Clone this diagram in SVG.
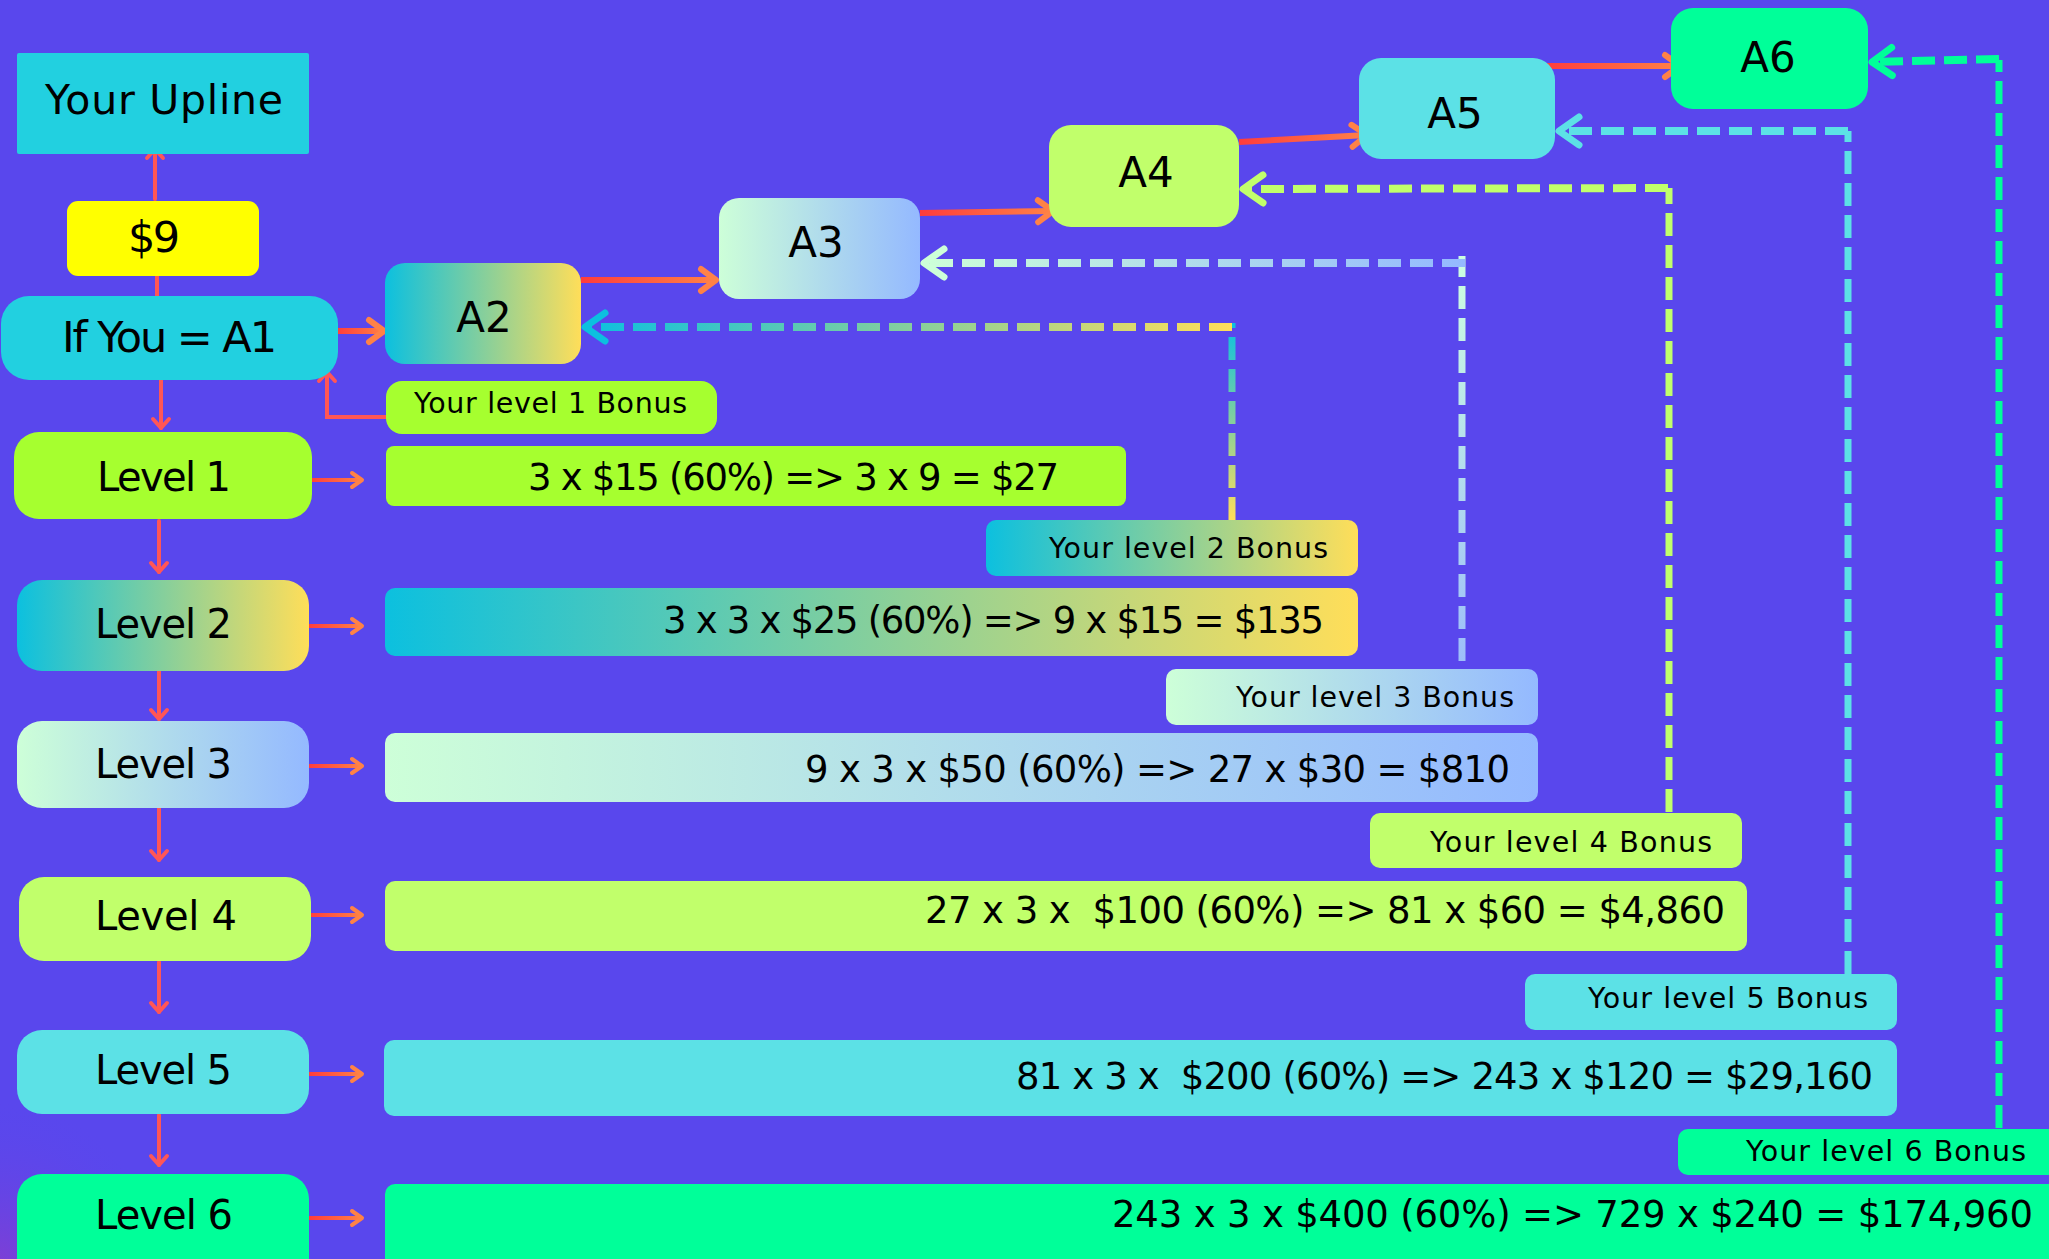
<svg xmlns="http://www.w3.org/2000/svg" width="2049" height="1259" viewBox="0 0 2049 1259">
<defs>
<style>
text{font-family:"DejaVu Sans","Liberation Sans",sans-serif;fill:#000;}
.t40{font-size:40px;}
.tA{font-size:42px;text-anchor:middle;}
.tb{font-size:28.5px;}
.tv{font-size:37px;white-space:pre;}
.cyan{fill:#22d0e0;}
.lime{fill:#a6ff2f;}
.lime2{fill:#c1ff6b;}
.aqua{fill:#5ce1e6;}
.green{fill:#00ff99;}
.g2{fill:url(#gCY);}
.g3{fill:url(#gMP);}
.thin{fill:none;stroke:#ff5656;stroke-width:4;stroke-linecap:round;}
.side{fill:none;stroke:url(#gSide);stroke-width:4;}
.big{fill:none;stroke-width:6;stroke-linecap:butt;}
.dh{fill:none;stroke-width:8;stroke-dasharray:23 9;}
.dv{fill:none;stroke-width:7;stroke-dasharray:23 9;}
</style>
<linearGradient id="gCY" x1="0" y1="0" x2="1" y2="0"><stop offset="0" stop-color="#0cc0df"/><stop offset="1" stop-color="#ffde59"/></linearGradient>
<linearGradient id="gMP" x1="0" y1="0" x2="1" y2="0"><stop offset="0" stop-color="#cdffd8"/><stop offset="1" stop-color="#94b9ff"/></linearGradient>
<linearGradient id="gSide" gradientUnits="userSpaceOnUse" x1="309" y1="0" x2="362" y2="0"><stop offset="0" stop-color="#ff3c3c"/><stop offset="1" stop-color="#ff8246"/></linearGradient>
<linearGradient id="gR1" gradientUnits="userSpaceOnUse" x1="336" y1="0" x2="385" y2="0"><stop offset="0" stop-color="#ff3c3c"/><stop offset="1" stop-color="#ff8246"/></linearGradient>
<linearGradient id="gR2" gradientUnits="userSpaceOnUse" x1="581" y1="0" x2="716" y2="0"><stop offset="0" stop-color="#ff3c3c"/><stop offset="1" stop-color="#ff8246"/></linearGradient>
<linearGradient id="gR3" gradientUnits="userSpaceOnUse" x1="920" y1="0" x2="1053" y2="0"><stop offset="0" stop-color="#ff3c3c"/><stop offset="1" stop-color="#ff8246"/></linearGradient>
<linearGradient id="gR4" gradientUnits="userSpaceOnUse" x1="1239" y1="0" x2="1367" y2="0"><stop offset="0" stop-color="#ff3c3c"/><stop offset="1" stop-color="#ff8246"/></linearGradient>
<linearGradient id="gR5" gradientUnits="userSpaceOnUse" x1="1543" y1="0" x2="1680" y2="0"><stop offset="0" stop-color="#ff3c3c"/><stop offset="1" stop-color="#ff8246"/></linearGradient>
<linearGradient id="gD2h" gradientUnits="userSpaceOnUse" x1="585" y1="0" x2="1232" y2="0"><stop offset="0" stop-color="#0cc0df"/><stop offset="1" stop-color="#ffde59"/></linearGradient>
<linearGradient id="gD2v" gradientUnits="userSpaceOnUse" x1="0" y1="325" x2="0" y2="520"><stop offset="0" stop-color="#0cc0df"/><stop offset="1" stop-color="#ffde59"/></linearGradient>
<linearGradient id="gD3h" gradientUnits="userSpaceOnUse" x1="924" y1="0" x2="1464" y2="0"><stop offset="0" stop-color="#cdffd8"/><stop offset="1" stop-color="#94b9ff"/></linearGradient>
<linearGradient id="gD3v" gradientUnits="userSpaceOnUse" x1="0" y1="258" x2="0" y2="662"><stop offset="0" stop-color="#cdffe0"/><stop offset="1" stop-color="#9dbefa"/></linearGradient>
<radialGradient id="gCorner" cx="0" cy="1259" r="160" gradientUnits="userSpaceOnUse"><stop offset="0" stop-color="#7c3fd6"/><stop offset="1" stop-color="#5947ed" stop-opacity="0"/></radialGradient>
<marker id="hBig" markerUnits="userSpaceOnUse" orient="auto" refX="0" refY="0" markerWidth="1" markerHeight="1" style="overflow:visible"><path d="M-15,-11 L0,0 L-15,11" fill="none" stroke="#ff8246" stroke-width="6" stroke-linecap="round" stroke-linejoin="round"/></marker>
<marker id="hSmO" markerUnits="userSpaceOnUse" orient="auto" refX="0" refY="0" markerWidth="1" markerHeight="1" style="overflow:visible"><path d="M-10,-7 L0,0 L-10,7" fill="none" stroke="#ff8246" stroke-width="4" stroke-linecap="round" stroke-linejoin="round"/></marker>
<marker id="hSmR" markerUnits="userSpaceOnUse" orient="auto" refX="0" refY="0" markerWidth="1" markerHeight="1" style="overflow:visible"><path d="M-9,-8 L0,0 L-9,8" fill="none" stroke="#ff5656" stroke-width="4" stroke-linecap="round" stroke-linejoin="round"/></marker>
<marker id="hCyan" markerUnits="userSpaceOnUse" orient="auto" refX="0" refY="0" markerWidth="1" markerHeight="1" style="overflow:visible"><path d="M-20,-14 L0,0 L-20,14" fill="none" stroke="#0cc0df" stroke-width="7" stroke-linecap="round" stroke-linejoin="round"/></marker>
<marker id="hMint" markerUnits="userSpaceOnUse" orient="auto" refX="0" refY="0" markerWidth="1" markerHeight="1" style="overflow:visible"><path d="M-20,-14 L0,0 L-20,14" fill="none" stroke="#cdffd8" stroke-width="7" stroke-linecap="round" stroke-linejoin="round"/></marker>
<marker id="hLime" markerUnits="userSpaceOnUse" orient="auto" refX="0" refY="0" markerWidth="1" markerHeight="1" style="overflow:visible"><path d="M-20,-14 L0,0 L-20,14" fill="none" stroke="#c1ff6b" stroke-width="7" stroke-linecap="round" stroke-linejoin="round"/></marker>
<marker id="hAqua" markerUnits="userSpaceOnUse" orient="auto" refX="0" refY="0" markerWidth="1" markerHeight="1" style="overflow:visible"><path d="M-20,-14 L0,0 L-20,14" fill="none" stroke="#5ce1e6" stroke-width="7" stroke-linecap="round" stroke-linejoin="round"/></marker>
<marker id="hGreen" markerUnits="userSpaceOnUse" orient="auto" refX="0" refY="0" markerWidth="1" markerHeight="1" style="overflow:visible"><path d="M-20,-14 L0,0 L-20,14" fill="none" stroke="#00ff99" stroke-width="7" stroke-linecap="round" stroke-linejoin="round"/></marker>
</defs>

<rect x="0" y="0" width="2049" height="1259" fill="#5947ed"/>
<rect x="0" y="1060" width="220" height="199" fill="url(#gCorner)"/>

<g id="connectors">
  <line class="thin" x1="155" y1="199" x2="155" y2="149" marker-end="url(#hSmR)"/>
  <line class="thin" x1="157" y1="276" x2="157" y2="297"/>
  <line class="thin" x1="161" y1="380" x2="161" y2="428" marker-end="url(#hSmR)"/>
  <path class="thin" d="M386,417 H327 V372" stroke-linejoin="miter" marker-end="url(#hSmR)"/>
  <line class="thin" x1="159" y1="521" x2="159" y2="572" marker-end="url(#hSmR)"/>
  <line class="thin" x1="159" y1="671" x2="159" y2="719" marker-end="url(#hSmR)"/>
  <line class="thin" x1="159" y1="808" x2="159" y2="860" marker-end="url(#hSmR)"/>
  <line class="thin" x1="159" y1="962" x2="159" y2="1012" marker-end="url(#hSmR)"/>
  <line class="thin" x1="159" y1="1115" x2="159" y2="1165" marker-end="url(#hSmR)"/>

  <line class="side" x1="312" y1="480" x2="362" y2="480" marker-end="url(#hSmO)"/>
  <line class="side" x1="309" y1="626" x2="362" y2="626" marker-end="url(#hSmO)"/>
  <line class="side" x1="309" y1="766" x2="362" y2="766" marker-end="url(#hSmO)"/>
  <line class="side" x1="311" y1="915" x2="362" y2="915" marker-end="url(#hSmO)"/>
  <line class="side" x1="309" y1="1074" x2="362" y2="1074" marker-end="url(#hSmO)"/>
  <line class="side" x1="309" y1="1218" x2="362" y2="1218" marker-end="url(#hSmO)"/>

  <line class="big" stroke="url(#gR1)" x1="336" y1="331" x2="384" y2="331" marker-end="url(#hBig)"/>
  <line class="big" stroke="url(#gR2)" x1="581" y1="280" x2="716" y2="280" marker-end="url(#hBig)"/>
  <line class="big" stroke="url(#gR3)" x1="920" y1="213" x2="1053" y2="211" marker-end="url(#hBig)"/>
  <line class="big" stroke="url(#gR4)" x1="1239" y1="142" x2="1367" y2="135" marker-end="url(#hBig)"/>
  <line class="big" stroke="url(#gR5)" x1="1543" y1="66" x2="1680" y2="66" marker-end="url(#hBig)"/>

  <line class="dv" stroke="url(#gD2v)" x1="1232" y1="520" x2="1232" y2="323"/>
  <line class="dh" stroke="url(#gD2h)" x1="1232" y1="327" x2="585" y2="327" marker-end="url(#hCyan)"/>
  <line class="dv" stroke="url(#gD3v)" x1="1462" y1="661" x2="1462" y2="256"/>
  <line class="dh" stroke="url(#gD3h)" x1="1465" y1="263" x2="924" y2="263" marker-end="url(#hMint)"/>
  <path class="dv" stroke="#c1ff6b" d="M1669,812 V188"/>
  <line class="dh" stroke="#c1ff6b" x1="1668" y1="188" x2="1243" y2="189" marker-end="url(#hLime)"/>
  <path class="dv" stroke="#5ce1e6" d="M1848,974 V131"/>
  <line class="dh" stroke="#5ce1e6" x1="1848" y1="131" x2="1559" y2="131" marker-end="url(#hAqua)"/>
  <path class="dv" stroke="#00ff99" d="M1999,1128 V60"/>
  <line class="dh" stroke="#00ff99" x1="1999" y1="59" x2="1872" y2="62" marker-end="url(#hGreen)"/>
</g>

<g id="upline"><rect class="cyan" x="17" y="53" width="292" height="101" rx="2"/><text class="t40" x="45" y="114" style="font-size:41px" textLength="238">Your Upline</text></g>
<g id="nine"><rect x="67" y="201" width="192" height="75" rx="11" fill="#ffff00"/><text class="t40" x="128" y="252" style="font-size:43px" textLength="52">$9</text></g>
<g id="a1"><rect class="cyan" x="1" y="296" width="337" height="84" rx="28"/><text class="t40" x="62" y="352" style="font-size:43px" textLength="215">If You = A1</text></g>

<g id="a2"><rect class="g2" x="385" y="263" width="196" height="101" rx="20"/><text class="tA" x="484" y="332">A2</text></g>
<g id="a3"><rect class="g3" x="719" y="198" width="201" height="101" rx="20"/><text class="tA" x="816" y="257">A3</text></g>
<g id="a4"><rect class="lime2" x="1049" y="125" width="190" height="102" rx="22"/><text class="tA" x="1146" y="187">A4</text></g>
<g id="a5"><rect class="aqua" x="1359" y="58" width="196" height="101" rx="22"/><text class="tA" x="1455" y="128">A5</text></g>
<g id="a6"><rect class="green" x="1671" y="8" width="197" height="101" rx="22"/><text class="tA" x="1768" y="72">A6</text></g>

<g id="level1"><rect class="lime" x="14" y="432" width="298" height="87" rx="25"/><text class="t40" x="97" y="491" textLength="134">Level 1</text></g>
<g id="level2"><rect class="g2" x="17" y="580" width="292" height="91" rx="25"/><text class="t40" x="95" y="638" textLength="137">Level 2</text></g>
<g id="level3"><rect class="g3" x="17" y="721" width="292" height="87" rx="25"/><text class="t40" x="95" y="778" textLength="137">Level 3</text></g>
<g id="level4"><rect class="lime2" x="19" y="877" width="292" height="84" rx="25"/><text class="t40" x="95" y="930" textLength="142">Level 4</text></g>
<g id="level5"><rect class="aqua" x="17" y="1030" width="292" height="84" rx="25"/><text class="t40" x="95" y="1084" textLength="137">Level 5</text></g>
<g id="level6"><rect class="green" x="17" y="1174" width="292" height="110" rx="25"/><text class="t40" x="95" y="1229" textLength="138">Level 6</text></g>

<g id="bonus1"><rect class="lime" x="386" y="381" width="331" height="53" rx="16"/><text class="tb" x="414" y="413" textLength="273">Your level 1 Bonus</text></g>
<g id="value1"><rect class="lime" x="386" y="446" width="740" height="60" rx="8"/><text class="tv" x="528" y="490" textLength="531">3 x $15 (60%) => 3 x 9 = $27</text></g>
<g id="bonus2"><rect class="g2" x="986" y="520" width="372" height="56" rx="10"/><text class="tb" x="1049" y="558" textLength="279">Your level 2 Bonus</text></g>
<g id="value2"><rect class="g2" x="385" y="588" width="973" height="68" rx="10"/><text class="tv" x="663" y="633" textLength="661">3 x 3 x $25 (60%) => 9 x $15 = $135</text></g>
<g id="bonus3"><rect class="g3" x="1166" y="669" width="372" height="56" rx="10"/><text class="tb" x="1236" y="707" textLength="278">Your level 3 Bonus</text></g>
<g id="value3"><rect class="g3" x="385" y="733" width="1153" height="69" rx="10"/><text class="tv" x="805" y="782" textLength="705">9 x 3 x $50 (60%) => 27 x $30 = $810</text></g>
<g id="bonus4"><rect class="lime2" x="1370" y="813" width="372" height="55" rx="10"/><text class="tb" x="1430" y="852" textLength="282">Your level 4 Bonus</text></g>
<g id="value4"><rect class="lime2" x="385" y="881" width="1362" height="70" rx="10"/><text class="tv" x="925" y="923" textLength="800">27 x 3 x  $100 (60%) => 81 x $60 = $4,860</text></g>
<g id="bonus5"><rect class="aqua" x="1525" y="974" width="372" height="56" rx="10"/><text class="tb" x="1588" y="1008" textLength="280">Your level 5 Bonus</text></g>
<g id="value5"><rect class="aqua" x="384" y="1040" width="1513" height="76" rx="10"/><text class="tv" x="1016" y="1089" textLength="857">81 x 3 x  $200 (60%) => 243 x $120 = $29,160</text></g>
<g id="bonus6"><rect class="green" x="1678" y="1129" width="400" height="46" rx="10"/><text class="tb" x="1746" y="1161" textLength="280">Your level 6 Bonus</text></g>
<g id="value6"><rect class="green" x="385" y="1184" width="1700" height="110" rx="10"/><text class="tv" x="1112" y="1227" textLength="921">243 x 3 x $400 (60%) => 729 x $240 = $174,960</text></g>
</svg>
